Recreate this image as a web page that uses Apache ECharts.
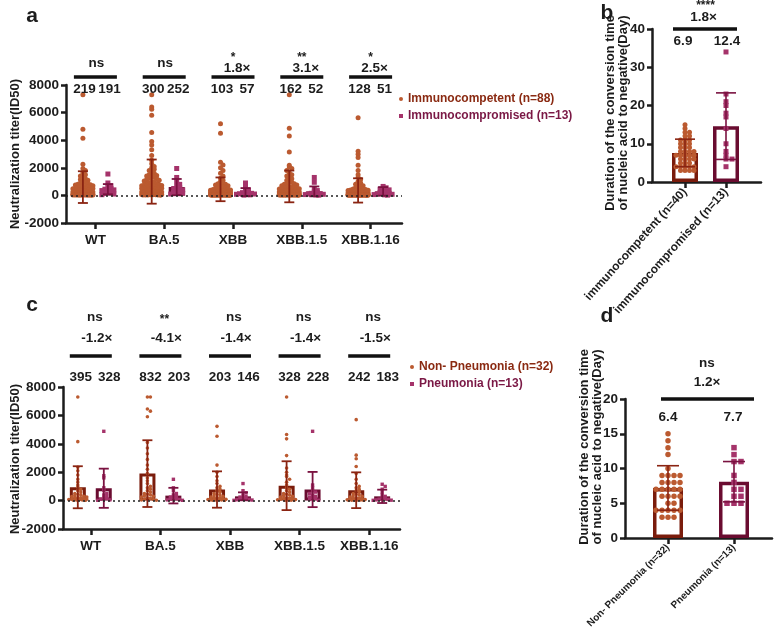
<!DOCTYPE html>
<html><head><meta charset="utf-8">
<script src="https://cdn.jsdelivr.net/npm/echarts@6/dist/echarts.min.js"></script>
<style>html,body{margin:0;padding:0;background:#fff}#c{width:777px;height:636px}</style>
</head><body><div id="c"></div>
<script>
// ---------------- DATA ----------------
const variants = ['WT', 'BA.5', 'XBB', 'XBB.1.5', 'XBB.1.16'];

// Panel a: immunocompetent (n=88) neutralization titers
const a_comp_WT = [7300,4800,4150,2250,1950,1800,1650,1500,1400,1300,1200,1150,1100,1000,950,900,850,800,780,750,700,680,650,620,600,580,550,520,500,480,460,440,420,400,380,360,350,340,320,300,290,280,270,260,250,240,230,220,210,200,190,180,170,160,150,145,140,130,120,110,100,95,90,85,80,75,70,65,60,55,50,48,45,42,40,38,35,32,30,28,25,22,20,20,20,20,20,20];
const a_comp_BA5 = [7300,6400,6250,5800,4550,3900,3650,3300,2900,2550,2300,2100,2000,1900,1800,1700,1600,1500,1450,1400,1350,1300,1250,1200,1150,1100,1050,1000,950,900,850,800,780,750,720,700,680,650,620,600,580,560,540,520,500,480,460,440,420,400,380,360,340,320,300,290,280,270,260,250,240,230,220,210,200,190,180,170,160,150,140,130,120,110,100,90,80,70,60,50,45,40,35,30,25,20,20,20];
const a_comp_XBB = [5200,4500,2400,2200,2000,1800,1600,1400,1250,1100,1000,900,850,800,750,700,650,600,560,520,480,450,420,400,380,360,340,320,300,280,260,250,240,230,220,210,200,190,180,170,160,150,140,130,120,110,100,95,90,85,80,75,70,65,60,55,50,48,45,42,40,38,35,32,30,28,25,22,20,20,20,20,20,20,20,20,20,20,20,20,20,20,20,20,20,20,20,20];
const a_comp_XBB15 = [7300,4870,4310,3150,2180,2050,1950,1800,1650,1500,1400,1300,1200,1100,1000,950,900,850,800,750,700,650,620,600,580,550,520,500,480,460,440,420,400,380,360,340,320,300,290,280,270,260,250,240,230,220,210,200,190,180,170,160,150,140,130,120,110,100,95,90,85,80,75,70,65,60,55,50,45,40,35,30,25,20,20,20,20,20,20,20,20,20,20,20,20,20,20,20];
const a_comp_XBB116 = [5620,3200,2980,2740,2180,1800,1500,1300,1150,1000,900,800,700,650,600,550,500,460,420,400,380,360,340,320,300,280,260,240,220,200,190,180,170,160,150,140,130,120,110,100,95,90,85,80,75,70,65,60,55,50,48,45,42,40,38,35,32,30,28,25,22,20,20,20,20,20,20,20,20,20,20,20,20,20,20,20,20,20,20,20,20,20,20,20,20,20,20,20];
// Panel a: immunocompromised (n=13)
const a_cmpd_WT = [1550,900,700,600,500,450,400,350,300,200,150,100,50];
const a_cmpd_BA5 = [1950,1300,1000,800,650,550,500,400,300,250,200,150,100];
const a_cmpd_XBB = [900,600,400,300,250,200,150,120,100,80,60,40,20];
const a_cmpd_XBB15 = [1300,950,500,350,250,200,150,120,100,80,60,40,20];
const a_cmpd_XBB116 = [650,550,450,400,300,250,200,150,100,80,60,40,20];
// Panel a bars (mean) and error bars (SD)
const a_compMean = [600, 1000, 440, 650, 360];
const a_compSD = [1150, 1600, 860, 1150, 880];
const a_cmpdMean = [450, 600, 240, 290, 290];
const a_cmpdSD = [370, 590, 290, 360, 310];
// Panel a annotations
const a_sig = ['ns', 'ns', '*', '**', '*'];
const a_fold = ['', '', '1.8×', '3.1×', '2.5×'];
const a_gmtComp = ['219', '300', '103', '162', '128'];
const a_gmtCmpd = ['191', '252', '57', '52', '51'];

// Panel c: non-pneumonia (n=32) and pneumonia (n=13)
const c_np_WT = [7300,4150,2350,2100,1800,1500,1300,1100,950,800,700,600,500,450,400,350,300,280,250,220,200,180,150,120,100,80,60,50,40,30,20,20];
const c_np_BA5 = [7300,7300,6450,6300,5900,4100,3700,3300,2900,2500,2200,1900,1600,1400,1200,1000,900,800,700,600,500,450,400,350,300,250,200,150,100,80,50,20];
const c_np_XBB = [5230,4530,2500,2000,1700,1400,1200,1000,900,800,700,600,500,450,400,350,300,250,220,200,180,150,120,100,80,60,50,40,30,20,20,20];
const c_np_XBB15 = [7300,4650,4350,3170,2300,2000,1800,1700,1500,1300,1100,900,800,700,600,500,450,400,350,300,250,200,180,150,120,100,80,60,40,30,20,20];
const c_np_XBB116 = [5700,3200,2950,2400,1900,1500,1200,1000,900,800,700,600,500,450,400,350,300,250,200,180,150,120,100,80,60,50,40,30,20,20,20,20];
const c_p_WT = [4880,1750,1600,900,700,500,400,300,200,150,100,50,20];
const c_p_BA5 = [1500,900,700,500,400,300,250,200,150,100,80,50,20];
const c_p_XBB = [1200,700,550,400,300,250,200,150,100,80,60,40,20];
const c_p_XBB15 = [4880,1100,900,700,600,500,400,300,250,200,150,80,20];
const c_p_XBB116 = [1150,1000,800,600,400,300,200,150,100,80,50,30,20];
const c_npMean = [940, 1900, 780, 1050, 730];
const c_npSD = [1480, 2350, 1280, 1720, 1260];
const c_pMean = [870, 350, 300, 780, 300];
const c_pSD = [1380, 550, 280, 1240, 470];
const c_sig = ['ns', '**', 'ns', 'ns', 'ns'];
const c_fold = ['-1.2×', '-4.1×', '-1.4×', '-1.4×', '-1.5×'];
const c_gmtNp = ['395', '832', '203', '328', '242'];
const c_gmtP = ['328', '203', '146', '228', '183'];

// Panel b: duration (days)
const b_cats = ['immunocompetent (n=40)', 'immunocompromised (n=13)'];
const b_comp = [15,14,13,13,12,12,11,11,11,10,10,10,9,9,9,8,8,8,8,7,7,7,7,7,6,6,6,6,5,5,5,4,4,4,4,4,3,3,3,3];
const b_cmpd = [34,23,21,20,18,17,14,10,8,7,6,6,4];
const b_mean = [7.6, 14.6];
const b_sd = [3.6, 8.7];
const b_sig = '****', b_fold = '1.8×', b_labels = ['6.9', '12.4'];

// Panel d
const d_cats = ['Non- Pneumonia (n=32)', 'Pneumonia (n=13)'];
const d_np = [15,14,13,12,10,9,9,9,9,8,8,8,8,7,7,7,7,7,6,6,6,6,5,5,4,4,4,4,4,3,3,3];
const d_p = [13,12,11,11,9,8,7,7,6,6,5,5,5];
const d_mean = [7.2, 8.1];
const d_sd = [3.2, 2.9];
const d_sig = 'ns', d_fold = '1.2×', d_labels = ['6.4', '7.7'];

// ---------------- STYLE ----------------
const FONT = '"Liberation Sans", Arial, sans-serif';
const INK = '#1c1c1c';
const COMP_DOT = '#bb5a30', COMP_BAR = '#7a1c0c', COMP_ERR = '#8a2412';
const CMPD_DOT = '#a5336a', CMPD_BAR = '#6a0c30', CMPD_ERR = '#7a1240';

// ---------------- HELPERS ----------------
function swarm(vals, bin, step, maxHalf) {
  const counts = {};
  const slots = [0];
  for (let k = 1; k * step <= maxHalf; k++) slots.push(k * step, -k * step);
  return vals.map(v => {
    const b = Math.floor(v / bin);
    const k = counts[b] = (counts[b] === undefined ? 0 : counts[b] + 1);
    const round = Math.floor(k / slots.length);
    let off = slots[k % slots.length] + (round % 2 ? step / 2 : 0);
    if (off > maxHalf) off -= step;
    return off;
  });
}
function dotSeries(name, gi, groups, offset, color, shape, size, bin, step, maxHalf) {
  const data = [];
  groups.forEach((vals, ci) => {
    const j = swarm(vals, bin, step, maxHalf);
    vals.forEach((v, k) => data.push([ci, v, j[k]]));
  });
  return {
    type: 'custom', name, xAxisIndex: gi, yAxisIndex: gi, data, z: 3, clip: false, silent: true,
    itemStyle: { color },
    renderItem(params, api) {
      const p = api.coord([api.value(0), api.value(1)]);
      const x = p[0] + offset + api.value(2), y = p[1];
      if (shape === 'circle') return { type: 'circle', shape: { cx: x, cy: y, r: size / 2 }, style: { fill: color } };
      return { type: 'rect', shape: { x: x - size / 2, y: y - size / 2, width: size, height: size }, style: { fill: color } };
    }
  };
}
function errSeries(gi, means, sds, offset, color, cap, lw) {
  return {
    type: 'custom', xAxisIndex: gi, yAxisIndex: gi, z: 4, clip: false, silent: true,
    data: means.map((m, i) => [i, m, sds[i]]),
    renderItem(params, api) {
      const i = api.value(0), m = api.value(1), s = api.value(2);
      const hi = api.coord([i, m + s]), lo = api.coord([i, m - s]);
      const x = hi[0] + offset;
      const st = { stroke: color, lineWidth: lw };
      return { type: 'group', children: [
        { type: 'line', shape: { x1: x, y1: hi[1], x2: x, y2: lo[1] }, style: st },
        { type: 'line', shape: { x1: x - cap / 2, y1: hi[1], x2: x + cap / 2, y2: hi[1] }, style: st },
        { type: 'line', shape: { x1: x - cap / 2, y1: lo[1], x2: x + cap / 2, y2: lo[1] }, style: st }
      ]};
    }
  };
}
function T(text, x, y, size, color) {
  return { type: 'text', style: { text, x, y, align: 'center', verticalAlign: 'middle',
    font: 'bold ' + size + 'px ' + FONT, fill: color || INK } };
}
function L(x1, y1, x2, y2, w) {
  return { type: 'line', shape: { x1, y1, x2, y2 }, style: { stroke: '#111', lineWidth: w || 3.5 } };
}
function annoSeries(gi, n, draw) {
  const data = [];
  for (let i = 0; i < n; i++) data.push([i, 0]);
  return {
    type: 'custom', xAxisIndex: gi, yAxisIndex: gi, data, z: 6, clip: false, silent: true,
    renderItem(params, api) {
      const i = params.dataIndex;
      const cx = api.coord([i, 0])[0];
      const top = params.coordSys.y;
      return { type: 'group', children: draw(i, cx, top, api) };
    }
  };
}
function zeroLine(gi) {
  return { type: 'line', xAxisIndex: gi, yAxisIndex: gi, data: [], z: 1, silent: true,
    markLine: { silent: true, symbol: ['none', 'none'], label: { show: false },
      lineStyle: { type: [2, 3], color: '#222', width: 1.5 }, data: [{ yAxis: 0 }] } };
}

// ---------------- AXES ----------------
const grids = [
  { left: 66, top: 85, width: 336, height: 138 },    // 0 a frame
  { left: 61, top: 85, width: 344, height: 138 },    // 1 a data
  { left: 652, top: 29, width: 109, height: 153 },   // 2 b frame
  { left: 664.5, top: 29, width: 82, height: 153 },  // 3 b data
  { left: 63, top: 387, width: 337, height: 142 },   // 4 c frame
  { left: 56, top: 387, width: 348, height: 142 },   // 5 c data
  { left: 625, top: 399, width: 147, height: 139 },  // 6 d frame
  { left: 635, top: 399, width: 132, height: 139 }   // 7 d data
];
const lineStyle = { color: INK, width: 2.5 };
function frameX(gi) {
  return { gridIndex: gi, type: 'value', min: 0, max: 1, axisLine: { show: true, onZero: false, lineStyle },
    axisTick: { show: false }, axisLabel: { show: false }, splitLine: { show: false } };
}
function frameY(gi, min, max, interval) {
  return { gridIndex: gi, type: 'value', min, max, interval,
    axisLine: { show: true, onZero: false, lineStyle }, axisTick: { show: true, length: 5, lineStyle },
    axisLabel: { fontFamily: FONT, fontWeight: 'bold', fontSize: 13.5, color: INK, margin: 7, formatter: v => String(v) },
    splitLine: { show: false } };
}
function dataX(gi, cats, labelOpt) {
  return { gridIndex: gi, type: 'category', data: cats,
    axisLine: { show: false, onZero: false }, axisTick: { show: true, alignWithLabel: true, length: 6, lineStyle },
    axisLabel: Object.assign({ fontFamily: FONT, fontWeight: 'bold', fontSize: 13.5, color: INK, margin: 10, interval: 0 }, labelOpt || {}),
    splitLine: { show: false } };
}
function dataY(gi, min, max) {
  return { gridIndex: gi, type: 'value', min, max, show: false, axisLine: { onZero: false }, splitLine: { show: false } };
}

const xAxis = [
  frameX(0), dataX(1, variants),
  frameX(2), dataX(3, b_cats, { rotate: 48, fontSize: 12, margin: 8 }),
  frameX(4), dataX(5, variants),
  frameX(6), dataX(7, d_cats, { rotate: 45, fontSize: 10, margin: 8 })
];
const yAxis = [
  frameY(0, -2000, 8000, 2000), dataY(1, -2000, 8000),
  frameY(2, 0, 40, 10), dataY(3, 0, 40),
  frameY(4, -2000, 8000, 2000), dataY(5, -2000, 8000),
  frameY(6, 0, 20, 5), dataY(7, 0, 20)
];

// ---------------- SERIES ----------------
function barSeries(gi, data, width, gap, border, bw) {
  return { type: 'bar', xAxisIndex: gi, yAxisIndex: gi, data, barWidth: width, barGap: gap, z: 2, silent: true,
    itemStyle: { color: 'rgba(255,255,255,0)', borderColor: border, borderWidth: bw } };
}
const series = [
  zeroLine(0), zeroLine(4),
  // panel a
  barSeries(1, a_compMean, 16, '56%', COMP_BAR, 3),
  barSeries(1, a_cmpdMean, 16, '56%', CMPD_BAR, 3),
  dotSeries('Immunocompetent (n=88)', 1, [a_comp_WT, a_comp_BA5, a_comp_XBB, a_comp_XBB15, a_comp_XBB116], -12.5, COMP_DOT, 'circle', 5, 350, 2.5, 11),
  dotSeries('Immunocompromised (n=13)', 1, [a_cmpd_WT, a_cmpd_BA5, a_cmpd_XBB, a_cmpd_XBB15, a_cmpd_XBB116], 12.5, CMPD_DOT, 'rect', 5, 350, 3, 9),
  errSeries(1, a_compMean, a_compSD, -12.5, COMP_ERR, 10, 1.8),
  errSeries(1, a_cmpdMean, a_cmpdSD, 12.5, CMPD_ERR, 10, 1.8),
  annoSeries(1, variants.length, (i, cx, top) => {
    const c = [L(cx - 21.5, top - 8, cx + 21.5, top - 8),
      T(a_gmtComp[i], cx - 11, top + 4, 13.5), T(a_gmtCmpd[i], cx + 14, top + 4, 13.5)];
    if (a_fold[i]) { c.push(T(a_sig[i], cx, top - 27, 12), T(a_fold[i], cx + 4, top - 17, 13.5)); }
    else c.push(T(a_sig[i], cx + 1, top - 22, 13.5));
    return c;
  }),
  // panel c
  barSeries(5, c_npMean, 16, '62%', COMP_BAR, 3),
  barSeries(5, c_pMean, 16, '62%', CMPD_BAR, 3),
  dotSeries('Non- Pneumonia (n=32)', 5, [c_np_WT, c_np_BA5, c_np_XBB, c_np_XBB15, c_np_XBB116], -13, COMP_DOT, 'circle', 3.6, 250, 3, 9),
  dotSeries('Pneumonia (n=13)', 5, [c_p_WT, c_p_BA5, c_p_XBB, c_p_XBB15, c_p_XBB116], 13, CMPD_DOT, 'rect', 3.4, 250, 3, 9),
  errSeries(5, c_npMean, c_npSD, -13, COMP_ERR, 10, 1.8),
  errSeries(5, c_pMean, c_pSD, 13, CMPD_ERR, 10, 1.8),
  annoSeries(5, variants.length, (i, cx, top) => {
    const star = c_sig[i].indexOf('*') >= 0;
    return [L(cx - 21, top - 31, cx + 21, top - 31),
      T(c_gmtNp[i], cx - 10, top - 10, 13.5), T(c_gmtP[i], cx + 18.5, top - 10, 13.5),
      T(c_sig[i], cx + 4, top - 70 + (star ? 3 : 0), star ? 12 : 13.5),
      T(c_fold[i], cx + 6, top - 49, 13.5)];
  }),
  // panel b
  { type: 'bar', xAxisIndex: 3, yAxisIndex: 3, barWidth: 26, z: 2, silent: true,
    data: [{ value: b_mean[0], itemStyle: { borderColor: COMP_BAR } }, { value: b_mean[1], itemStyle: { borderColor: CMPD_BAR } }],
    itemStyle: { color: 'rgba(255,255,255,0)', borderWidth: 3.5 } },
  dotSeries('b-comp', 3, [b_comp, []], 0, COMP_DOT, 'circle', 5, 1, 4.5, 12),
  dotSeries('b-cmpd', 3, [[], b_cmpd], 0, CMPD_DOT, 'rect', 5, 1, 6, 12),
  errSeries(3, [b_mean[0], null], [b_sd[0], null], 0, COMP_ERR, 20, 1.6),
  errSeries(3, [null, b_mean[1]], [null, b_sd[1]], 0, CMPD_ERR, 20, 1.6),
  annoSeries(3, 1, (i, cx, top, api) => {
    const c0 = api.coord([0, 0])[0], c1 = api.coord([1, 0])[0], mid = (c0 + c1) / 2;
    return [L(c0 - 12, top, c1 + 11, top),
      T(b_sig, mid, top - 23, 12), T(b_fold, mid - 2, top - 12, 13.5),
      T(b_labels[0], c0 - 2, top + 12, 13.5), T(b_labels[1], c1 + 1, top + 12, 13.5)];
  }),
  // panel d
  { type: 'bar', xAxisIndex: 7, yAxisIndex: 7, barWidth: 30, z: 2, silent: true,
    data: [{ value: d_mean[0], itemStyle: { borderColor: COMP_BAR } }, { value: d_mean[1], itemStyle: { borderColor: CMPD_BAR } }],
    itemStyle: { color: 'rgba(255,255,255,0)', borderWidth: 3.5 } },
  dotSeries('d-np', 7, [d_np, []], 0, COMP_DOT, 'circle', 5.5, 1, 6, 15),
  dotSeries('d-p', 7, [[], d_p], 0, CMPD_DOT, 'rect', 5.5, 1, 7, 14),
  errSeries(7, [d_mean[0], null], [d_sd[0], null], 0, COMP_ERR, 22, 1.6),
  errSeries(7, [null, d_mean[1]], [null, d_sd[1]], 0, CMPD_ERR, 22, 1.6),
  annoSeries(7, 1, (i, cx, top, api) => {
    const c0 = api.coord([0, 0])[0], c1 = api.coord([1, 0])[0], mid = (c0 + c1) / 2;
    return [L(c0 - 7, top, c1 + 20, top),
      T(d_sig, mid + 6, top - 36, 13.5), T(d_fold, mid + 6, top - 17, 13.5),
      T(d_labels[0], c0, top + 18, 13.5), T(d_labels[1], c1 - 1, top + 18, 13.5)];
  })
];

// ---------------- TEXT ----------------
const txt = (text, x, y, size, rot) => ({ type: 'text', x, y, rotation: rot || 0,
  style: { text, align: 'center', verticalAlign: 'middle', font: 'bold ' + size + 'px ' + FONT, fill: INK } });
const graphic = [
  txt('a', 32, 16, 21), txt('b', 607, 13, 21), txt('c', 32, 305, 21), txt('d', 607, 316, 21),
  txt('Neutralization titer(ID50)', 15, 154, 13, Math.PI / 2),
  txt('Neutralization titer(ID50)', 15, 459, 13, Math.PI / 2),
  txt('Duration of the conversion time\nof nucleic acid to negative(Day)', 617, 113, 13, Math.PI / 2),
  txt('Duration of the conversion time\nof nucleic acid to negative(Day)', 591, 447, 13, Math.PI / 2)
];

const legendBase = { orient: 'vertical', itemWidth: 4, itemHeight: 4, itemGap: 5, selectedMode: false,
  textStyle: { fontFamily: FONT, fontWeight: 'bold', fontSize: 12 } };
const legend = [
  Object.assign({}, legendBase, { left: 394, top: 88, data: [
    { name: 'Immunocompetent (n=88)', icon: 'circle', textStyle: { color: '#8a2a12' } },
    { name: 'Immunocompromised (n=13)', icon: 'rect', textStyle: { color: '#7a1845' } }] }),
  Object.assign({}, legendBase, { left: 405, top: 356, data: [
    { name: 'Non- Pneumonia (n=32)', icon: 'circle', textStyle: { color: '#8a2a12' } },
    { name: 'Pneumonia (n=13)', icon: 'rect', textStyle: { color: '#7a1845' } }] })
];

const chart = echarts.init(document.getElementById('c'), null, { renderer: 'canvas' });
chart.setOption({ animation: false, backgroundColor: '#fff', grid: grids, xAxis, yAxis, series, graphic, legend });
</script></body></html>
